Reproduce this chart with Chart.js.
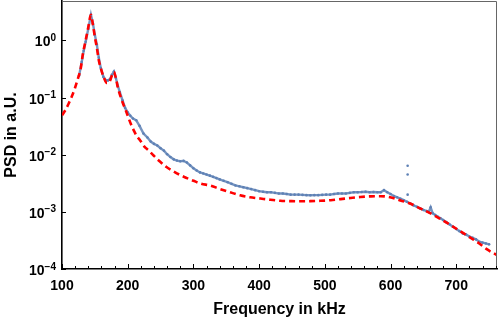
<!DOCTYPE html>
<html>
<head>
<meta charset="utf-8">
<script src="https://cdn.jsdelivr.net/npm/chart.js@4"></script>
<style>
  html, body { margin: 0; padding: 0; background: #fff; }
  #wrap { width: 498px; height: 319px; }
</style>
</head>
<body>
<div id="wrap"><canvas id="psdChart"></canvas></div>
<script>
// measured spectrum (blue dots)
const freqMeas = [126,130,133,136,140,144,147,150,153,156,159,163,167,170,173,176,179,182,185,188,192,196,200,204,208,213,218,224,230,235,240,245,250,255,260,265,270,275,280,285,290,295,300,305,310,315,320,325,330,335,340,346,352,358,364,370,376,382,388,394,400,406,412,418,424,430,436,442,448,454,460,466,472,478,484,490,496,502,508,514,520,526,532,538,544,550,556,562,568,574,580,585,590,595,600,605,610,615,620,625,630,635,640,645,650,655,658,661,664,668,672,676,680,685,690,695,700,705,710,715,720,725,730,735,740,745,750];
const psdMeas = [0.24,0.42,0.66,0.95,1.6,2.8,2.0,1.25,0.85,0.5,0.33,0.23,0.2,0.2,0.21,0.25,0.285,0.22,0.16,0.125,0.09,0.066,0.055,0.048,0.043,0.040,0.032,0.0235,0.02,0.017,0.0155,0.0145,0.013,0.0118,0.0102,0.0091,0.0083,0.0079,0.0077,0.0078,0.0073,0.0065,0.0058,0.0053,0.0049,0.0047,0.0045,0.0043,0.0041,0.0039,0.0037,0.0035,0.0033,0.0031,0.0029,0.0028,0.0027,0.0026,0.0025,0.0024,0.0023,0.00225,0.0022,0.0022,0.00215,0.0021,0.0021,0.00205,0.002,0.002,0.002,0.00198,0.00196,0.00195,0.00196,0.00196,0.00198,0.002,0.002,0.00205,0.0021,0.0021,0.0021,0.00215,0.0022,0.0022,0.00222,0.00225,0.0022,0.00222,0.0022,0.0022,0.0024,0.0022,0.00205,0.0019,0.0018,0.0017,0.0016,0.0015,0.0014,0.0013,0.00123,0.00115,0.00108,0.00103,0.001,0.0012,0.00095,0.00088,0.00082,0.00077,0.00072,0.00066,0.0006,0.00055,0.0005,0.00046,0.00042,0.0004,0.00037,0.00035,0.00033,0.0003,0.00029,0.00028,0.00027];

// stray points near 626 kHz
const freqStray = [626,626,626];
const psdStray = [0.0064,0.0045,0.002];

// fit curve (red dashed)
const freqFit = [100,105,110,115,120,125,128,132,136,140,144,147,150,153,156,160,164,168,171,174,177,179,182,185,189,193,197,201,205,209,214,219,225,232,239,249,259,270,280,290,300,312,325,341,356,371,386,402,417,432,448,463,478,493,509,524,539,554,570,585,595,605,615,630,645,661,676,691,706,722,735,747,762];
const psdFit = [0.049,0.06,0.078,0.105,0.15,0.23,0.3,0.6,1.0,1.7,2.8,1.9,1.15,0.75,0.45,0.3,0.22,0.18,0.18,0.21,0.26,0.28,0.22,0.15,0.105,0.078,0.06,0.045,0.034,0.027,0.021,0.0178,0.014,0.0118,0.0098,0.0076,0.0061,0.0051,0.0044,0.0039,0.0035,0.0031,0.0029,0.0025,0.0022,0.00195,0.0018,0.00171,0.00163,0.00156,0.00154,0.00153,0.00154,0.00156,0.0016,0.00167,0.00175,0.00182,0.00187,0.00188,0.00184,0.00173,0.00158,0.0014,0.00115,0.00094,0.00075,0.00059,0.00046,0.00035,0.00028,0.00022,0.000175];

const xTicks = [100,200,300,400,500,600,700];
const xMinor = [120,140,160,180,220,240,260,280,320,340,360,380,420,440,460,480,520,540,560,580,620,640,660,680,720,740,760];
const yTicks = [1e-4,1e-3,1e-2,1e-1,1];
const yExps = ['\u22124','\u22123','\u22122','\u22121','0'];

const toPts = (xs, ys) => xs.map((x, i) => ({ x: x, y: ys[i] }));
const FONT = '"Liberation Sans", Arial, sans-serif';

// inward ticks, grey top/right frame, 10^n labels
const frameTicks = {
    id: 'frameTicks',
    afterDraw(chart) {
        const { ctx, chartArea: a, scales } = chart;
        ctx.save();
        ctx.strokeStyle = '#666';
        ctx.lineWidth = 1;
        ctx.beginPath();
        ctx.moveTo(a.left, a.top + 0.5);
        ctx.lineTo(a.right - 0.5, a.top + 0.5);
        ctx.lineTo(a.right - 0.5, a.bottom);
        ctx.stroke();

        ctx.strokeStyle = '#000';
        ctx.lineWidth = 1;
        ctx.beginPath();
        xTicks.forEach(v => {
            const px = Math.round(scales.x.getPixelForValue(v)) + 0.5;
            ctx.moveTo(px, a.bottom); ctx.lineTo(px, a.bottom - 5);
        });
        xMinor.forEach(v => {
            const px = Math.round(scales.x.getPixelForValue(v)) + 0.5;
            if (px < a.right) { ctx.moveTo(px, a.bottom); ctx.lineTo(px, a.bottom - 3); }
        });
        yTicks.forEach(v => {
            const py = Math.round(scales.y.getPixelForValue(v)) + 0.5;
            ctx.moveTo(a.left, py); ctx.lineTo(a.left + 4, py);
        });
        ctx.stroke();

        // y labels as 10 with raised exponent
        ctx.fillStyle = '#000';
        ctx.textBaseline = 'alphabetic';
        ctx.textAlign = 'left';
        const xRight = a.left - 6;
        yTicks.forEach((v, i) => {
            const py = scales.y.getPixelForValue(v);
            ctx.font = 'bold 10px ' + FONT;
            const wSup = ctx.measureText(yExps[i]).width;
            ctx.font = 'bold 14px ' + FONT;
            const wMain = ctx.measureText('10').width;
            ctx.fillText('10', xRight - wSup - wMain, py + 6);
            ctx.font = 'bold 10px ' + FONT;
            ctx.fillText(yExps[i], xRight - wSup, py + 0.5);
        });
        ctx.restore();
    }
};

const chartConfig = {
    type: 'scatter',
    data: {
        datasets: [
            {
                label: 'Fit',
                data: toPts(freqFit, psdFit),
                showLine: true,
                borderColor: '#FF0000',
                borderWidth: 2.6,
                borderDash: [6, 4],
                pointRadius: 0,
                cubicInterpolationMode: 'monotone',
                order: 0
            },
            {
                label: 'Measured',
                data: toPts(freqMeas, psdMeas),
                showLine: true,
                borderColor: 'rgba(94, 129, 181, 0.85)',
                borderWidth: 2.4,
                backgroundColor: '#5E81B5',
                pointRadius: 1.3,
                pointBorderWidth: 0,
                order: 1
            },
            {
                label: 'Stray',
                data: toPts(freqStray, psdStray),
                backgroundColor: '#5E81B5',
                pointRadius: 1.3,
                pointBorderWidth: 0,
                order: 1
            }
        ]
    },
    options: {
        responsive: true,
        maintainAspectRatio: false,
        animation: false,
        layout: { autoPadding: false, padding: { top: 1, right: 1, left: 0, bottom: 0 } },
        plugins: {
            legend: { display: false },
            tooltip: { enabled: false }
        },
        scales: {
            x: {
                type: 'linear',
                min: 100,
                max: 762,
                afterBuildTicks: s => { s.ticks = xTicks.map(v => ({ value: v })); },
                afterFit: s => { s.height = 50; s.paddingLeft = 0; s.paddingRight = 0; },
                grid: { display: false, drawTicks: false },
                border: { display: true, color: '#000', width: 1.6 },
                ticks: {
                    color: '#000',
                    padding: 9,
                    maxRotation: 0,
                    font: { family: FONT, size: 14, weight: 'bold' }
                },
                title: {
                    display: true,
                    text: 'Frequency in kHz',
                    color: '#000',
                    padding: { top: 2, bottom: 0 },
                    font: { family: FONT, size: 16, weight: 'bold' }
                }
            },
            y: {
                type: 'logarithmic',
                min: 1e-4,
                max: 4.9,
                afterBuildTicks: s => { s.ticks = yTicks.map(v => ({ value: v })); },
                afterFit: s => { s.width = 62; s.paddingTop = 0; s.paddingBottom = 0; },
                grid: { display: false, drawTicks: false },
                border: { display: true, color: '#000', width: 1.6 },
                ticks: {
                    display: false
                },
                title: {
                    display: true,
                    text: 'PSD in a.U.',
                    color: '#000',
                    padding: { top: 2, bottom: 2 },
                    font: { family: FONT, size: 16, weight: 'bold' }
                }
            }
        }
    },
    plugins: [frameTicks]
};

const ctx = document.getElementById('psdChart').getContext('2d');
const psdChart = new Chart(ctx, chartConfig);
</script>
</body>
</html>
